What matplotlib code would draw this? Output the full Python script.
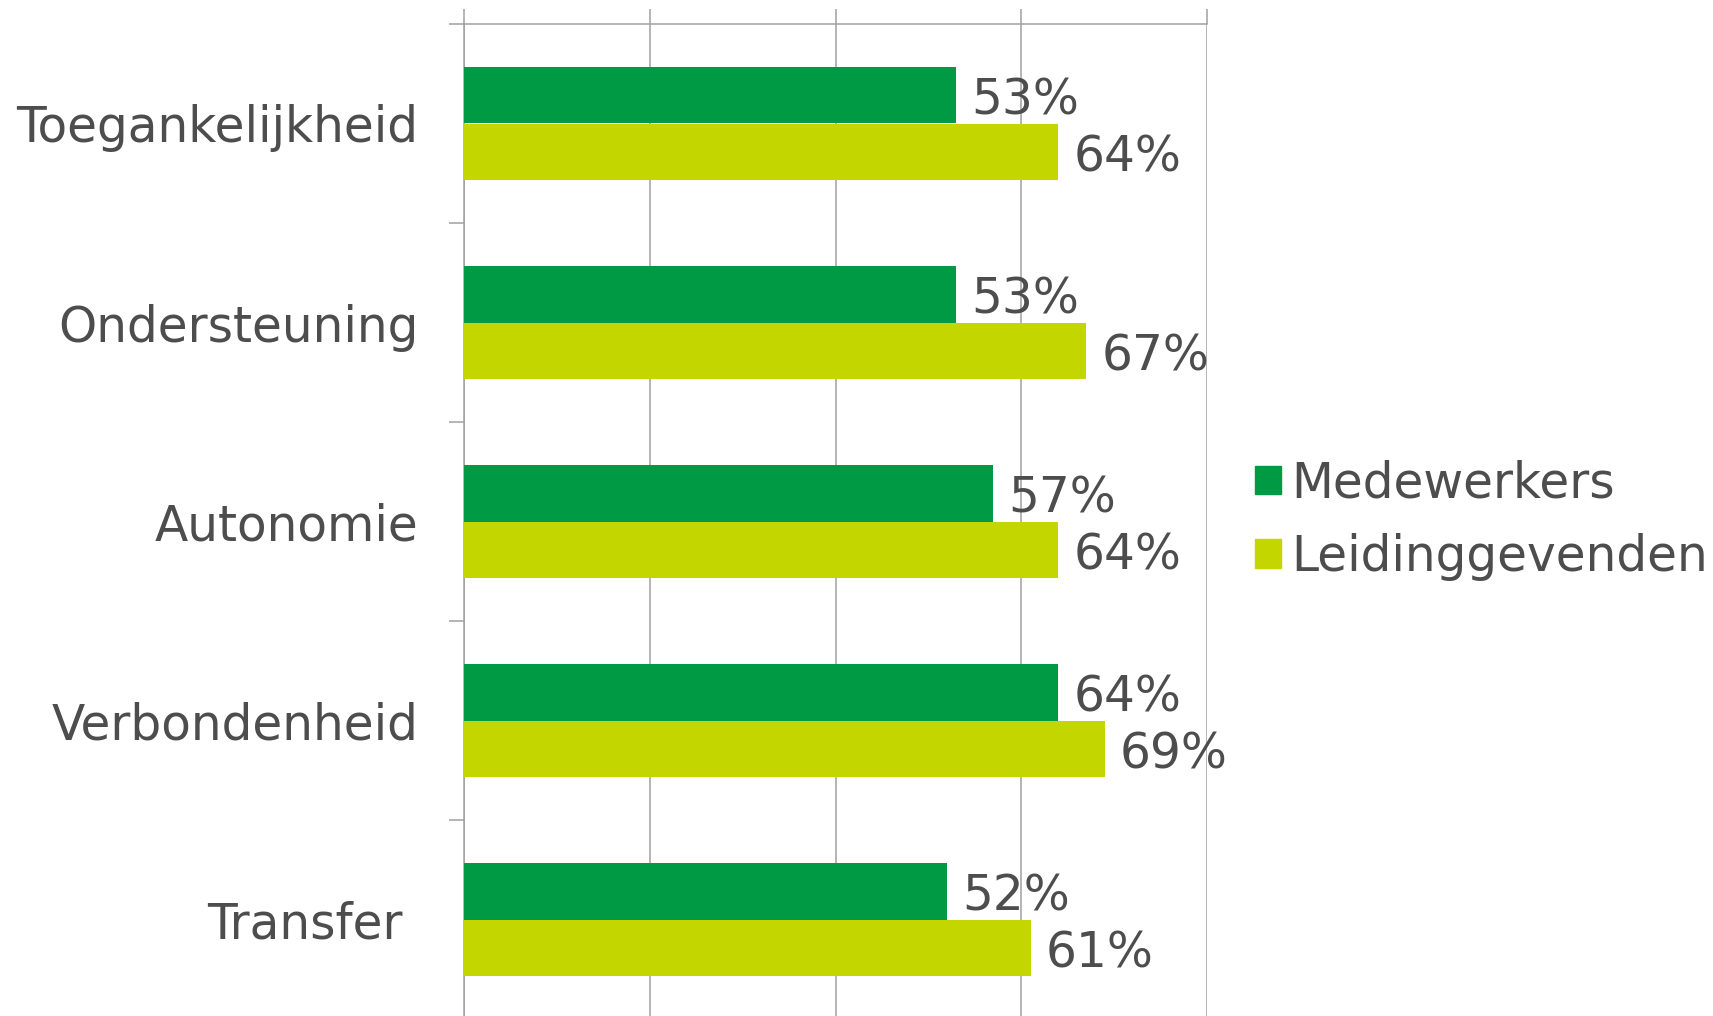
"""Medewerkers vs leidinggevenden per thema (horizontale staven)."""

import matplotlib
matplotlib.use("Agg")
import matplotlib.pyplot as plt
from matplotlib.patches import Patch
import numpy as np

categorieen = ["Toegankelijkheid", "Ondersteuning", "Autonomie", "Verbondenheid", "Transfer "]
medewerkers = [53, 53, 57, 64, 52]
leidinggevenden = [64, 67, 64, 69, 61]
reeksen = ["Medewerkers", "Leidinggevenden"]

GROEN = "#009a44"
GEEL = "#c4d600"
TEKST = "#4d4d4d"
LIJN = "#a0a0a0"
FS = 35


def main() -> None:
    fig = plt.figure(figsize=(17.13, 10.16), dpi=100)
    # plotgebied loopt net iets onder de rand door
    ax = fig.add_axes([464 / 1713, -3 / 1016, 743 / 1713, 995 / 1016])

    y = np.arange(len(categorieen))
    h = 0.285
    ax.barh(y - h / 2, medewerkers, height=h, color=GROEN, zorder=3)
    ax.barh(y + h / 2, leidinggevenden, height=h, color=GEEL, zorder=3)

    for i, (m, l) in enumerate(zip(medewerkers, leidinggevenden)):
        ax.annotate(f"{m}%", (m, i - h / 2), xytext=(11, -4), textcoords="offset points",
                    va="center", ha="left", fontsize=FS, color=TEKST)
        ax.annotate(f"{l}%", (l, i + h / 2), xytext=(11, -4), textcoords="offset points",
                    va="center", ha="left", fontsize=FS, color=TEKST)

    ax.set_xlim(0, 80)
    ax.set_ylim(len(categorieen) - 0.5, -0.5)

    # x-as bovenaan, zonder labels
    ax.xaxis.tick_top()
    ax.set_xticks([0, 20, 40, 60, 80])
    ax.tick_params(axis="x", which="major", direction="out", length=11,
                   width=1.1, color=LIJN, labeltop=False, labelbottom=False)
    ax.grid(axis="x", color=LIJN, linewidth=1.1, zorder=0)

    # y-as: streepjes op grenzen, labels in het midden
    ax.set_yticks(np.arange(len(categorieen) + 1) - 0.5)
    ax.set_yticklabels([])
    ax.set_yticks(y, minor=True)
    ax.set_yticklabels(categorieen, minor=True, fontsize=FS, color=TEKST)
    ax.tick_params(axis="y", which="major", direction="out", length=11,
                   width=1.1, color=LIJN)
    ax.tick_params(axis="y", which="minor", length=0, pad=33)

    for kant in ["right", "bottom"]:
        ax.spines[kant].set_visible(False)
    for kant in ["left", "top"]:
        ax.spines[kant].set_color(LIJN)
        ax.spines[kant].set_linewidth(1.1)

    handles = [Patch(color=GROEN), Patch(color=GEEL)]
    fig.legend(handles, reeksen, loc="center left",
               bbox_to_anchor=(1236 / 1713, 1 - 520 / 1016), frameon=False,
               fontsize=FS, labelcolor=TEKST, handlelength=0.52, handleheight=0.52,
               handletextpad=0.22, labelspacing=0.53, borderaxespad=0)

    fig.savefig("out.png", dpi=100)
    plt.close(fig)


if __name__ == "__main__":
    main()
